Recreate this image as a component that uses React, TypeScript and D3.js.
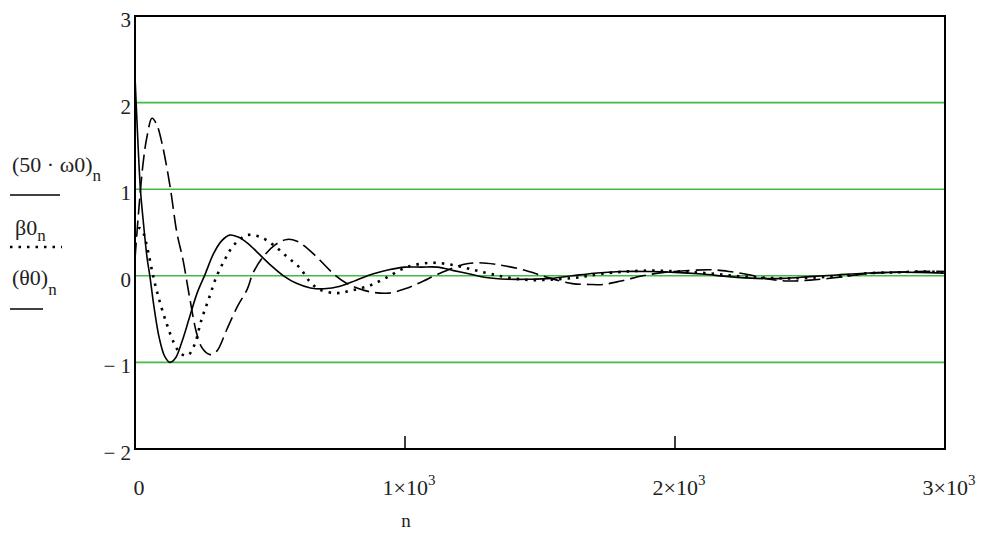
import { scaleLinear, line, curveCatmullRom } from 'd3';

// sample positions n and values
const nOmega = [0, 10, 20, 30, 45, 55, 70, 90, 110, 130, 150, 175, 200, 230, 260, 290, 320, 350, 380, 420, 460, 500, 550, 600, 650, 700, 760, 820, 880, 940, 1000, 1060, 1120, 1180, 1240, 1300, 1380, 1460, 1540, 1620, 1700, 1800, 1900, 2000, 2100, 2200, 2300, 2400, 2500, 2600, 2700, 2800, 2900, 3000];
const omega = [2.3, 1.6, 1.0, 0.65, 0.2, 0.0, -0.35, -0.72, -0.93, -1.0, -0.95, -0.75, -0.5, -0.2, 0.02, 0.25, 0.4, 0.47, 0.45, 0.37, 0.25, 0.13, 0.0, -0.09, -0.14, -0.15, -0.12, -0.05, 0.02, 0.07, 0.1, 0.1, 0.1, 0.06, 0.02, -0.02, -0.04, -0.04, -0.03, 0.0, 0.03, 0.05, 0.05, 0.04, 0.02, -0.01, -0.03, -0.03, -0.01, 0.01, 0.03, 0.04, 0.04, 0.03];

const nBeta = [0, 15, 30, 45, 67, 90, 118, 145, 170, 195, 220, 245, 275, 303, 335, 365, 415, 463, 511, 563, 611, 648, 685, 748, 800, 863, 926, 1007, 1100, 1185, 1252, 1320, 1400, 1480, 1560, 1640, 1720, 1820, 1920, 2020, 2120, 2220, 2320, 2420, 2520, 2620, 2720, 2820, 2920, 3000];
const beta = [0.45, 0.55, 0.5, 0.33, 0.0, -0.28, -0.56, -0.78, -0.9, -0.92, -0.8, -0.52, -0.25, 0.0, 0.2, 0.35, 0.47, 0.45, 0.36, 0.22, 0.09, -0.07, -0.16, -0.2, -0.17, -0.12, -0.03, 0.1, 0.15, 0.12, 0.07, 0.02, -0.03, -0.05, -0.04, -0.02, 0.02, 0.05, 0.06, 0.05, 0.03, 0.0, -0.02, -0.03, -0.02, 0.0, 0.03, 0.04, 0.05, 0.04];

const nTheta = [0, 15, 30, 44, 63, 80, 100, 130, 155, 178, 204, 228, 250, 278, 303, 340, 380, 415, 437, 470, 520, 563, 600, 637, 685, 733, 780, 830, 880, 940, 1000, 1055, 1130, 1215, 1270, 1340, 1437, 1530, 1620, 1680, 1733, 1800, 1880, 1960, 2050, 2130, 2200, 2280, 2350, 2420, 2500, 2600, 2700, 2800, 2900, 3000];
const theta = [0.2, 0.8, 1.3, 1.6, 1.82, 1.75, 1.53, 1.03, 0.5, 0.18, -0.28, -0.66, -0.84, -0.91, -0.87, -0.62, -0.35, -0.16, 0.03, 0.2, 0.36, 0.42, 0.4, 0.32, 0.18, 0.03, -0.08, -0.15, -0.19, -0.2, -0.15, -0.08, 0.03, 0.13, 0.15, 0.13, 0.07, -0.02, -0.09, -0.1, -0.1, -0.06, 0.0, 0.04, 0.06, 0.07, 0.05, 0.01, -0.04, -0.06, -0.05, -0.02, 0.02, 0.04, 0.05, 0.05];

const yTicks = [3, 2, 1, 0, -1, -2];
const yTickLabels = ['3', '2', '1', '0', '\u2212 1', '\u2212 2'];
const gridValues = [2, 1, 0, -1];
const xTicks = [0, 1000, 2000, 3000];
const xTickMantissa = ['0', '1\u00d710', '2\u00d710', '3\u00d710'];

const W = 983;
const H = 535;
const font = '"Liberation Serif", "Times New Roman", serif';

export default function App() {
  const x = scaleLinear().domain([0, 3000]).range([135, 945]);
  const y = scaleLinear().domain([-2, 3]).range([449, 16]);

  const makePath = (ns: number[], vs: number[]) =>
    line<number>()
      .x((_, i) => x(ns[i]))
      .y((v) => y(v))
      .curve(curveCatmullRom.alpha(0.5))(vs) || '';

  return (
    <svg
      width={W}
      height={H}
      style={{ position: 'absolute', left: 0, top: 0, background: '#fff' }}
      fontFamily={font}
    >
      <rect width={W} height={H} fill="#fff" />

      {/* green horizontal grid */}
      {gridValues.map((v) => (
        <line key={v} x1={x(0)} x2={x(3000)} y1={y(v)} y2={y(v)} stroke="#44b944" strokeWidth={1.6} />
      ))}

      {/* curves */}
      <path d={makePath(nOmega, omega)} fill="none" stroke="#000" strokeWidth={1.6} />
      <path d={makePath(nBeta, beta)} fill="none" stroke="#000" strokeWidth={2.6} strokeDasharray="2.5,6" />
      <path d={makePath(nTheta, theta)} fill="none" stroke="#000" strokeWidth={1.6} strokeDasharray="16,6" />

      {/* frame */}
      <rect x={x(0)} y={y(3)} width={x(3000) - x(0)} height={y(-2) - y(3)} fill="none" stroke="#000" strokeWidth={2} />
      {[1000, 2000].map((t) => (
        <line key={t} x1={x(t)} x2={x(t)} y1={y(-2)} y2={y(-2) - 13} stroke="#000" strokeWidth={1.5} />
      ))}

      {/* y tick labels */}
      {yTicks.map((v, i) => (
        <text key={v} x={131} y={y(v) + 11} textAnchor="end" fontSize={21} fill="#222">
          {yTickLabels[i]}
        </text>
      ))}

      {/* x tick labels */}
      {xTicks.map((t, i) => (
        <text key={t} x={x(t) + 4} y={495} textAnchor="middle" fontSize={22} fill="#222">
          {xTickMantissa[i]}
          {t > 0 && (
            <tspan fontSize={15} dy={-10}>
              3
            </tspan>
          )}
        </text>
      ))}
      <text x={406} y={527} textAnchor="middle" fontSize={19} fill="#222">
        n
      </text>

      {/* legend */}
      <text x={12} y={172} fontSize={22} fill="#222">
        (50 · ω0)
        <tspan fontSize={17} dy={9}>n</tspan>
      </text>
      <line x1={10} x2={60} y1={195} y2={195} stroke="#000" strokeWidth={1.6} />
      <text x={15} y={235} fontSize={22} fill="#222">
        β0
        <tspan fontSize={17} dy={6}>n</tspan>
      </text>
      <line x1={10} x2={62} y1={247} y2={247} stroke="#000" strokeWidth={2.6} strokeDasharray="2.5,6" />
      <text x={12} y={285} fontSize={22} fill="#222">
        (θ0)
        <tspan fontSize={17} dy={10}>n</tspan>
      </text>
      <line x1={10} x2={43} y1={309} y2={309} stroke="#000" strokeWidth={1.6} />
    </svg>
  );
}
